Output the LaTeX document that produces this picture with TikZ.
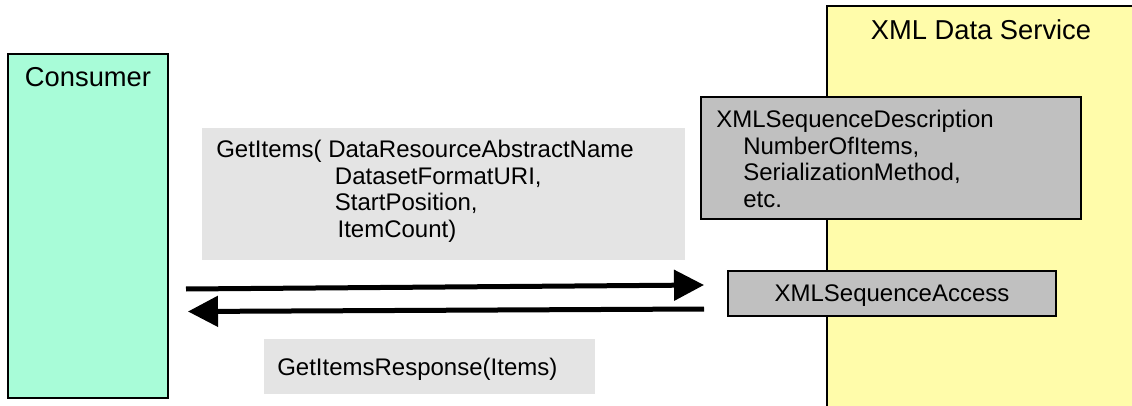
\documentclass[tikz,border=0pt]{standalone}
\usepackage{fontspec}
\setmainfont{Liberation Sans}
\usetikzlibrary{arrows.meta}
\definecolor{mint}{RGB}{168,252,216}
\definecolor{paleyellow}{RGB}{255,252,170}
\definecolor{boxgray}{RGB}{192,192,192}
\definecolor{labelgray}{RGB}{228,228,228}
\tikzset{
  pane/.style={draw=black, line width=1pt, inner sep=0pt, outer sep=0pt},
  compbox/.style={draw=black, line width=1.1pt, fill=boxgray, inner sep=0pt, outer sep=0pt},
  msgbox/.style={fill=labelgray, draw=none, inner sep=0pt, outer sep=0pt},
  titletext/.style={font=\fontsize{20.5}{24}\selectfont, inner sep=0pt, anchor=base},
  bodytext/.style={font=\fontsize{18}{20}\selectfont, inner sep=0pt, align=left},
  msgarrow/.style={line width=3.75pt, -{Triangle[length=22.5pt,width=22.5pt]}}
}
\begin{document}
\begin{tikzpicture}[x=0.75pt,y=-0.75pt]
\clip (0,0) rectangle (1132,406);
\fill[white] (0,0) rectangle (1132,406);
% XML Data Service pane (extends past the right and bottom edges)
\draw[pane, fill=paleyellow] (827,6) rectangle (1145,420);
\node[titletext] (xmltitle) at (981,40) {XML Data Service};
% Consumer pane
\draw[pane, fill=mint] (8,54) rectangle (168,398);
\node[titletext] (constitle) at (88,87) {Consumer};
% Components
\node[compbox, minimum width=380*0.75pt, minimum height=122*0.75pt, anchor=north west] (desc) at (701,97) {};
\node[bodytext, anchor=north west] (desctext) at (716,109.8)
  {XMLSequenceDescription\\\hspace*{20.25pt}NumberOfItems,\\\hspace*{20.25pt}SerializationMethod,\\\hspace*{20.25pt}etc.};
\node[compbox, minimum width=328*0.75pt, minimum height=45*0.75pt, anchor=north west] (access) at (728,271) {};
\node[bodytext, anchor=base] (accesstext) at (892,301) {XMLSequenceAccess};
% Message labels
\node[msgbox, minimum width=483*0.75pt, minimum height=132*0.75pt, anchor=north west] (reqbox) at (202,128) {};
\node[bodytext, anchor=north west] (reqtext) at (216,139.8)
  {GetItems( DataResourceAbstractName\\\hspace*{89pt}DatasetFormatURI,\\\hspace*{89pt}StartPosition,\\\hspace*{91pt}ItemCount)};
\node[msgbox, minimum width=331*0.75pt, minimum height=55*0.75pt, anchor=north west] (respbox) at (264,339) {};
\node[bodytext, anchor=base west] (resptext) at (277,375) {GetItemsResponse(Items)};
% Messages
\coordinate (reqStart) at (186,289);
\coordinate (reqEnd) at (704,285);
\coordinate (respStart) at (704,309);
\coordinate (respEnd) at (188,311.5);
\draw[msgarrow] (reqStart) -- (reqEnd);
\draw[msgarrow] (respStart) -- (respEnd);
\end{tikzpicture}
\end{document}
